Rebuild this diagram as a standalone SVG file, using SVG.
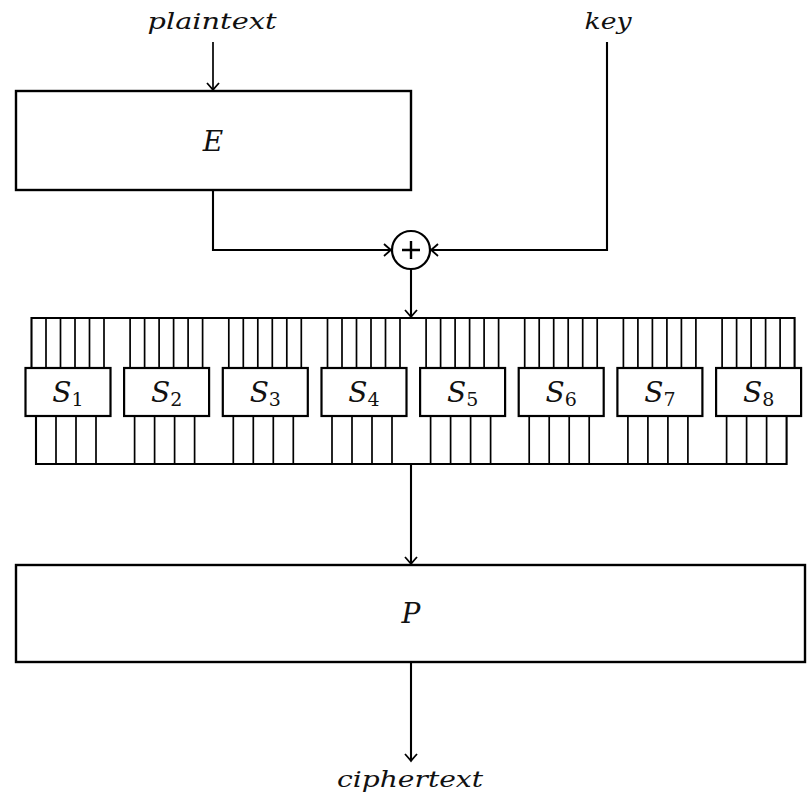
<svg xmlns="http://www.w3.org/2000/svg" width="807" height="800" viewBox="0 0 807 800">
<style>
.box{fill:#fff;stroke:#000;stroke-width:2.4}
.sbox{fill:#fff;stroke:#000;stroke-width:2.2}
.w{stroke:#000;stroke-width:1.7;fill:none}
.c{stroke:#000;stroke-width:2.1;fill:none}
.t{font-family:"DejaVu Serif","Liberation Serif",serif;font-style:italic;font-size:23px;fill:#111}
.big{font-size:28px}
.s{font-family:"DejaVu Serif","Liberation Serif",serif;font-size:28px;fill:#111;text-anchor:middle}
</style>
<defs>
<marker id="arr" markerUnits="userSpaceOnUse" markerWidth="20" markerHeight="20" viewBox="-10 -10 20 20" refX="0" refY="0" orient="auto">
<path d="M -7 -6 Q -2 -1.5 0 0 Q -2 1.5 -7 6" fill="none" stroke="#000" stroke-width="1.8"/>
</marker>
</defs>
<text class="t" x="212" y="29" text-anchor="middle" textLength="129" lengthAdjust="spacingAndGlyphs">plaintext</text>
<text class="t" x="608" y="29" text-anchor="middle" textLength="47" lengthAdjust="spacingAndGlyphs">key</text>
<text class="t" x="410" y="787" text-anchor="middle" textLength="146" lengthAdjust="spacingAndGlyphs">ciphertext</text>
<g id="connectors">
<path class="w" d="M 213 42 L 213 90" stroke-width="1.4" marker-end="url(#arr)"/>
<path class="c" d="M 213 190 L 213 250 L 391 250" marker-end="url(#arr)"/>
<path class="c" d="M 607 42 L 607 250 L 431 250" marker-end="url(#arr)"/>
<path class="c" d="M 411 269 L 411 317" marker-end="url(#arr)"/>
<path class="c" d="M 411 464 L 411 564" marker-end="url(#arr)"/>
<path class="c" d="M 411 662 L 411 761" marker-end="url(#arr)"/>
<path class="c" d="M 31.5 368 L 31.5 318 L 794.6 318 L 794.6 368"/>
<path class="c" d="M 36 416 L 36 464 L 786.6 464 L 786.6 416"/>
<path class="w" d="M46 318V368M60.5 318V368M75 318V368M89.5 318V368M104 318V368
M130.1 318V368M144.6 318V368M159.1 318V368M173.6 318V368M188.1 318V368M202.6 318V368
M228.8 318V368M243.3 318V368M257.8 318V368M272.3 318V368M286.8 318V368M301.3 318V368
M327.5 318V368M342 318V368M356.5 318V368M371 318V368M385.5 318V368M400 318V368
M426.1 318V368M440.6 318V368M455.1 318V368M469.6 318V368M484.1 318V368M498.6 318V368
M524.7 318V368M539.2 318V368M553.7 318V368M568.2 318V368M582.7 318V368M597.2 318V368
M623.4 318V368M637.9 318V368M652.4 318V368M666.9 318V368M681.4 318V368M695.9 318V368
M722.1 318V368M736.6 318V368M751.1 318V368M765.6 318V368M780.1 318V368"/>
<path class="w" d="M56 416V464M76 416V464M96 416V464
M134.6 416V464M154.6 416V464M174.6 416V464M194.6 416V464
M233.3 416V464M253.3 416V464M273.3 416V464M293.3 416V464
M332 416V464M352 416V464M372 416V464M392 416V464
M430.6 416V464M450.6 416V464M470.6 416V464M490.6 416V464
M529.2 416V464M549.2 416V464M569.2 416V464M589.2 416V464
M627.9 416V464M647.9 416V464M667.9 416V464M687.9 416V464
M726.6 416V464M746.6 416V464M766.6 416V464"/>
</g>
<g id="E">
<rect class="box" x="16" y="91" width="395" height="99"/>
<text class="t big" x="213" y="151" text-anchor="middle">E</text>
</g>
<g id="xor">
<circle cx="411" cy="250" r="19" fill="#fff" stroke="#000" stroke-width="2.2"/>
<path d="M 402 250 H 420 M 411 241 V 259" stroke="#000" stroke-width="2.4"/>
</g>
<g id="S1"><rect class="sbox" x="25.5" y="368" width="85" height="48"/><text class="s" x="68" y="402"><tspan font-style="italic">S</tspan><tspan font-size="19" dy="4">1</tspan></text></g>
<g id="S2"><rect class="sbox" x="124.1" y="368" width="85" height="48"/><text class="s" x="166.6" y="402"><tspan font-style="italic">S</tspan><tspan font-size="19" dy="4">2</tspan></text></g>
<g id="S3"><rect class="sbox" x="222.8" y="368" width="85" height="48"/><text class="s" x="265.3" y="402"><tspan font-style="italic">S</tspan><tspan font-size="19" dy="4">3</tspan></text></g>
<g id="S4"><rect class="sbox" x="321.5" y="368" width="85" height="48"/><text class="s" x="364" y="402"><tspan font-style="italic">S</tspan><tspan font-size="19" dy="4">4</tspan></text></g>
<g id="S5"><rect class="sbox" x="420.1" y="368" width="85" height="48"/><text class="s" x="462.6" y="402"><tspan font-style="italic">S</tspan><tspan font-size="19" dy="4">5</tspan></text></g>
<g id="S6"><rect class="sbox" x="518.7" y="368" width="85" height="48"/><text class="s" x="561.2" y="402"><tspan font-style="italic">S</tspan><tspan font-size="19" dy="4">6</tspan></text></g>
<g id="S7"><rect class="sbox" x="617.4" y="368" width="85" height="48"/><text class="s" x="659.9" y="402"><tspan font-style="italic">S</tspan><tspan font-size="19" dy="4">7</tspan></text></g>
<g id="S8"><rect class="sbox" x="716.1" y="368" width="85" height="48"/><text class="s" x="758.6" y="402"><tspan font-style="italic">S</tspan><tspan font-size="19" dy="4">8</tspan></text></g>
<g id="P">
<rect class="box" x="16" y="565" width="789" height="97"/>
<text class="t big" x="411" y="623" text-anchor="middle">P</text>
</g>
</svg>
